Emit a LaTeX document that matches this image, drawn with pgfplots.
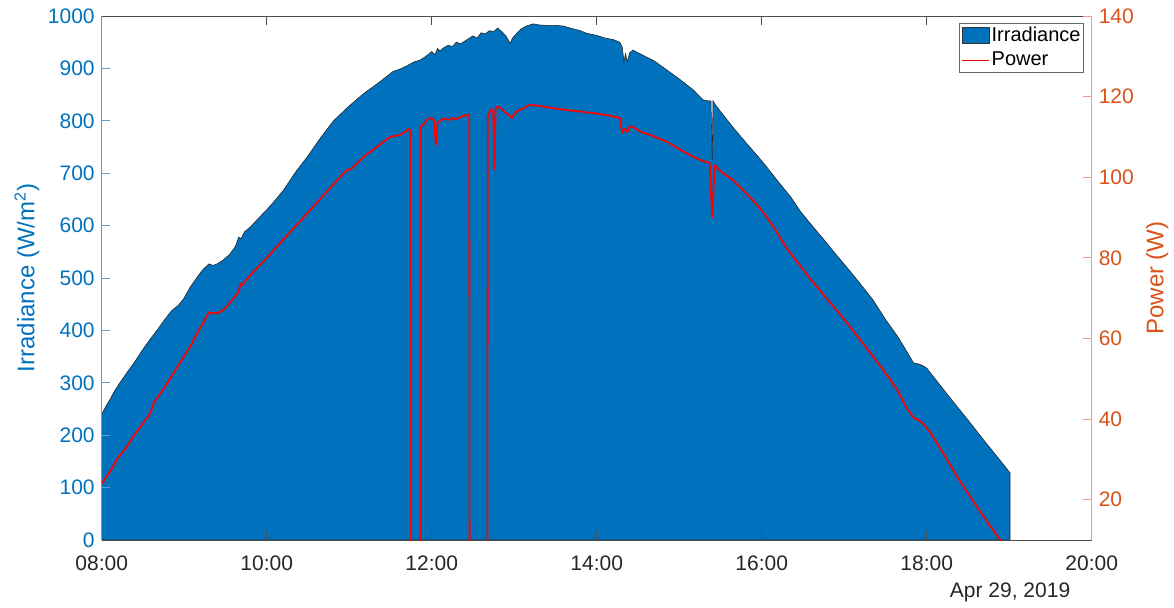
\documentclass[border=0pt]{standalone}
\usepackage{fontspec}
\setmainfont{Liberation Sans}
\usepackage{pgfplots}
\pgfplotsset{compat=1.18}
\usepackage{pgfplotstable}
\definecolor{mblue}{RGB}{0,114,189}
\definecolor{morange}{RGB}{217,83,25}
\definecolor{mgray}{RGB}{38,38,38}

\pgfplotstableread{
t irr
8.00 240
8.05 255
8.10 268
8.15 283
8.22 300
8.30 318
8.40 340
8.50 364
8.60 386
8.67 400
8.75 418
8.85 438
8.93 448
9.00 462
9.07 482
9.15 500
9.22 515
9.30 527
9.35 524
9.40 527
9.47 534
9.55 545
9.62 560
9.66 578
9.69 575
9.73 588
9.80 597
9.90 614
10.00 630
10.10 648
10.20 667
10.34 700
10.50 733
10.65 767
10.81 800
10.99 827
11.10 842
11.20 855
11.29 865
11.40 878
11.53 894
11.62 899
11.70 905
11.78 912
11.86 916
11.92 922
11.97 928
12.00 932
12.04 926
12.07 938
12.10 933
12.15 940
12.20 944
12.25 942
12.30 950
12.35 947
12.43 955
12.50 962
12.55 958
12.60 968
12.65 966
12.70 972
12.75 970
12.80 977
12.85 970
12.90 962
12.95 948
12.98 958
13.02 965
13.08 975
13.15 981
13.23 985
13.30 983
13.40 982
13.50 982
13.59 981
13.70 976
13.80 972
13.88 967
14.00 963
14.10 958
14.20 955
14.28 950
14.31 940
14.33 913
14.35 928
14.37 912
14.40 930
14.44 935
14.50 930
14.60 922
14.70 914
14.85 897
15.00 880
15.17 859
15.29 840
15.35 838
15.385 838
15.40 725
15.41 838
15.45 828
15.55 808
15.65 788
15.80 760
15.95 733
16.06 712
16.20 684
16.35 655
16.47 627
16.60 602
16.75 574
16.90 545
17.05 517
17.20 488
17.35 458
17.50 421
17.65 388
17.75 362
17.84 338
17.90 336
17.95 333
18.00 328
18.10 308
18.30 268
18.50 229
18.70 189
18.90 150
19.01 128
}\irrtable

\pgfplotstableread{
t p
8.00 24
8.10 27
8.20 30.5
8.30 33
8.38 35.6
8.45 37.5
8.52 39.5
8.59 41.5
8.63 44
8.67 45.2
8.75 47.5
8.87 51.4
8.95 54
9.07 57.9
9.15 61
9.22 63.5
9.27 65.4
9.30 66.5
9.35 66.2
9.43 66.5
9.50 67.5
9.60 70
9.66 71.5
9.68 73.5
9.71 73.3
9.75 74.5
9.84 76.5
10.00 80
10.20 84.5
10.40 89
10.60 93.5
10.80 98
10.97 101.8
11.02 102
11.10 103.5
11.20 105.5
11.30 107
11.45 109.3
11.50 110
11.62 110.5
11.68 111.3
11.72 112
11.74 111.5
11.745 0
11.865 0
11.87 112.7
11.90 113
11.95 114.5
12.00 114.7
12.03 114
12.05 108
12.07 113.5
12.10 114
12.15 114.6
12.20 114.2
12.25 114.7
12.30 114.4
12.38 115.2
12.45 115.5
12.455 115.5
12.46 0
12.675 0
12.68 115
12.72 116.8
12.745 116.5
12.76 102
12.775 117.2
12.79 117.4
12.83 117.3
12.87 116.5
12.93 115.5
12.97 114.7
13.03 116.4
13.10 117
13.19 118
13.30 117.7
13.45 117.2
13.63 116.7
13.80 116.3
14.00 115.8
14.15 115.3
14.28 114.7
14.31 111
14.34 112
14.37 111.2
14.40 112.6
14.44 112.5
14.53 111.3
14.65 110.5
14.85 108.8
15.00 107
15.15 105.3
15.25 104.3
15.37 103.5
15.40 90
15.43 103
15.50 101.5
15.65 99.3
15.80 96.3
15.95 93
16.06 90.2
16.18 86.5
16.30 82.4
16.45 78.5
16.60 74.5
16.80 69.6
16.95 66
17.07 62.9
17.20 59.5
17.35 55.5
17.46 52.5
17.56 49.7
17.65 47
17.75 43
17.84 40.3
17.90 39.8
17.95 39
18.05 36.5
18.20 31.5
18.40 24.7
18.61 18.2
18.75 14
18.89 10
18.95 8
}\powtable

\begin{document}
\begin{tikzpicture}
\path[use as bounding box] (-50.85pt,-33.5pt) rectangle (536.15pt,270pt);
\begin{axis}[
  name=ax,
  at={(0,0)}, anchor=south west,
  width=495pt, height=262pt, scale only axis,
  xmin=8, xmax=20, ymin=0, ymax=1000,
  xtick={8,10,12,14,16,18,20},
  xticklabels={08:00,10:00,12:00,14:00,16:00,18:00,20:00},
  ytick={0,100,...,1000},
  tick align=inside, major tick length=4.3pt,
  xtick pos=both, ytick pos=left,
  separate axis lines,
  x axis line style={draw=black!70, line width=0.4pt},
  y axis line style={draw=mblue!65, line width=0.4pt},
  x tick style={draw=black!70, line width=0.4pt},
  y tick style={draw=mblue!65, line width=0.4pt},
  xticklabel style={font=\fontsize{10.5}{12}\selectfont, text=mgray, yshift=-4.5pt},
  yticklabel style={font=\fontsize{10.5}{12}\selectfont, text=mblue},
  /pgf/number format/assume math mode=true,
  /pgf/number format/1000 sep={},
  ylabel={Irradiance (W/m\textsuperscript{2})},
  ylabel style={font=\fontsize{12}{14}\selectfont, text=mblue, at={(axis description cs:-0.0755,0.5)}, anchor=center},
  axis on top,
]
\addplot[fill=mblue, draw=black!85, line width=0.3pt] table[x=t,y=irr] {\irrtable} \closedcycle;
\end{axis}
\begin{axis}[
  at={(0,0)}, anchor=south west,
  width=495pt, height=262pt, scale only axis,
  xmin=8, xmax=20, ymin=10, ymax=140,
  axis x line=none, axis y line*=right,
  ytick={20,40,...,140},
  tick align=inside, major tick length=4.3pt,
  y axis line style={draw=morange!55, line width=0.4pt},
  y tick style={draw=morange!55, line width=0.4pt},
  yticklabel style={font=\fontsize{10.5}{12}\selectfont, text=morange},
  /pgf/number format/assume math mode=true,
  ylabel={Power (W)},
  ylabel style={font=\fontsize{12}{14}\selectfont, text=morange, at={(axis description cs:1.066,0.5)}, anchor=center},
  legend style={at={(1,1)}, anchor=north east, xshift=-3.85pt, yshift=-3.65pt,
    draw=black!60, line width=0.4pt, font=\fontsize{10}{12}\selectfont,
    inner sep=0.6pt, row sep=2.2pt, nodes={inner sep=0.9pt}},
  legend cell align=left,
]
\addlegendimage{legend image code/.code={\draw[fill=mblue,draw=black!80,line width=0.3pt] (0pt,-4pt) rectangle (13.5pt,4pt);}}
\addlegendentry{Irradiance}
\addlegendimage{legend image code/.code={\draw[draw=red,line width=0.9pt] (0pt,0pt) -- (13.5pt,0pt);}}
\addlegendentry{Power}
\addplot[draw=red, line width=0.9pt, line join=round, forget plot]
  table[x=t,y=p] {\powtable};
\end{axis}
\node[font=\fontsize{10.5}{12}\selectfont, text=mgray] at ([xshift=454.2pt,yshift=-26pt]ax.south west) {Apr 29, 2019};
\end{tikzpicture}
\end{document}
